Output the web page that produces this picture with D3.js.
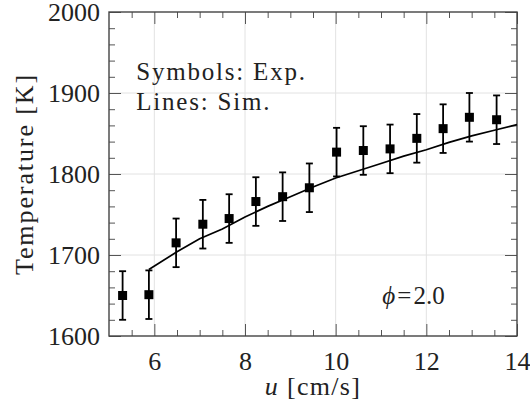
<!DOCTYPE html>
<html>
<head>
<meta charset="utf-8">
<script src="https://cdn.jsdelivr.net/npm/d3@7"></script>
</head>
<body style="margin:0; background:#fff">
<svg width="530" height="414"></svg>
<script>
let width = 530;
let height = 414;

let margin = {
    top: 12,
    right: 13,
    bottom: 78,
    left: 109
};

let FONT = "Liberation Serif"

// experiment (symbols)
let expU = [5.3, 5.88, 6.48, 7.07, 7.65, 8.24, 8.83, 9.42, 10.02, 10.61, 11.2, 11.79, 12.37, 12.95, 13.55];
let expT = [1650, 1651, 1715, 1738, 1745, 1766, 1772, 1783, 1827, 1829, 1831, 1844, 1856, 1870, 1867];
let expErr = [30, 30, 30, 30, 30, 30, 30, 30, 30, 30, 30, 30, 30, 30, 30];

// simulation (line)
let simU = [5.88, 6.5, 7.0, 7.5, 8.0, 8.5, 9.0, 9.5, 10.0, 10.5, 11.0, 11.5, 12.0, 12.5, 13.0, 13.5, 14.0];
let simT = [1682, 1704, 1720, 1732, 1747, 1760, 1772, 1784, 1795, 1804, 1813, 1822, 1830, 1839, 1847, 1854, 1861];

let xTicks = [6, 8, 10, 12, 14];
let yTicks = [1600, 1700, 1800, 1900, 2000];

let svg = d3.select("svg")

let x = d3.scaleLinear()
    .domain([5, 14])
    .range([margin.left, width - margin.right])

let y = d3.scaleLinear()
    .domain([1600, 2000])
    .range([height - margin.bottom, margin.top])

let x0 = margin.left, x1 = width - margin.right
let y0 = height - margin.bottom, y1 = margin.top

// grid lines at major ticks
let grid = svg.append("g")
grid.selectAll(".gx")
    .data(xTicks.filter(d => d > 5 && d < 14))
    .join("line")
    .attr("x1", d => x(d)).attr("x2", d => x(d))
    .attr("y1", y0).attr("y2", y1)
    .attr("stroke", "#e2e2e2").attr("stroke-width", 1)
grid.selectAll(".gy")
    .data(yTicks.filter(d => d > 1600 && d < 2000))
    .join("line")
    .attr("x1", x0).attr("x2", x1)
    .attr("y1", d => y(d)).attr("y2", d => y(d))
    .attr("stroke", "#e2e2e2").attr("stroke-width", 1)

let minorX = d3.range(5.5, 14, 0.5).filter(d => d % 2 != 0)
let minorY = d3.range(1620, 2000, 20).filter(d => d % 100 != 0)

function styleAxis(g) {
    g.attr("font-family", FONT).attr("font-size", 26)
    g.select(".domain").remove()
    g.selectAll(".tick line").attr("stroke", "#555").attr("stroke-width", 1)
    g.selectAll(".tick text").attr("fill", "#222")
}

// bottom + top
svg.append("g").attr("transform", `translate(0,${y0})`)
    .call(d3.axisBottom(x).tickValues(xTicks).tickSize(-12).tickPadding(16).tickFormat(d3.format("d")))
    .call(styleAxis)
svg.append("g").attr("transform", `translate(0,${y0})`)
    .call(d3.axisBottom(x).tickValues(minorX).tickSize(-6).tickFormat(""))
    .call(styleAxis)
svg.append("g").attr("transform", `translate(0,${y1})`)
    .call(d3.axisTop(x).tickValues(xTicks).tickSize(-12).tickFormat(""))
    .call(styleAxis)
svg.append("g").attr("transform", `translate(0,${y1})`)
    .call(d3.axisTop(x).tickValues(minorX).tickSize(-6).tickFormat(""))
    .call(styleAxis)

// left + right
svg.append("g").attr("transform", `translate(${x0},0)`)
    .call(d3.axisLeft(y).tickValues(yTicks).tickSize(-12).tickPadding(9).tickFormat(d3.format("d")))
    .call(styleAxis)
svg.append("g").attr("transform", `translate(${x0},0)`)
    .call(d3.axisLeft(y).tickValues(minorY).tickSize(-6).tickFormat(""))
    .call(styleAxis)
svg.append("g").attr("transform", `translate(${x1},0)`)
    .call(d3.axisRight(y).tickValues(yTicks).tickSize(-12).tickFormat(""))
    .call(styleAxis)
svg.append("g").attr("transform", `translate(${x1},0)`)
    .call(d3.axisRight(y).tickValues(minorY).tickSize(-6).tickFormat(""))
    .call(styleAxis)

// frame
svg.append("rect")
    .attr("x", x0).attr("y", y1)
    .attr("width", x1 - x0).attr("height", y0 - y1)
    .attr("fill", "none").attr("stroke", "#444").attr("stroke-width", 1.4)

// simulation line
let line = d3.line()
    .x((d, i) => x(simU[i]))
    .y(d => y(d))
svg.append("path")
    .attr("d", line(simT))
    .attr("fill", "none").attr("stroke", "#000").attr("stroke-width", 1.7)

// error bars
let expData = expU.map((u, i) => ({u: u, t: expT[i], e: expErr[i]}))
let bars = svg.append("g").selectAll("g")
    .data(expData)
    .join("g")
    .attr("stroke", "#000").attr("stroke-width", 1.8)
bars.append("line")
    .attr("x1", d => x(d.u)).attr("x2", d => x(d.u))
    .attr("y1", d => y(d.t - d.e)).attr("y2", d => y(d.t + d.e))
bars.append("line")
    .attr("x1", d => x(d.u) - 3.5).attr("x2", d => x(d.u) + 3.5)
    .attr("y1", d => y(d.t - d.e)).attr("y2", d => y(d.t - d.e))
bars.append("line")
    .attr("x1", d => x(d.u) - 3.5).attr("x2", d => x(d.u) + 3.5)
    .attr("y1", d => y(d.t + d.e)).attr("y2", d => y(d.t + d.e))

// square symbols
let sq = 9
svg.append("g").selectAll("rect")
    .data(expData)
    .join("rect")
    .attr("x", d => x(d.u) - sq / 2)
    .attr("y", d => y(d.t) - sq / 2)
    .attr("width", sq).attr("height", sq)
    .attr("fill", "#000")

// annotations
function label(sel, size, spacing) {
    return sel.attr("font-family", FONT)
        .attr("font-size", size)
        .attr("letter-spacing", spacing)
        .attr("fill", "#222")
}

label(svg.append("text"), 25, 1.8)
    .attr("x", x(5.6)).attr("y", y(1916))
    .text("Symbols: Exp.")
label(svg.append("text"), 25, 1.8)
    .attr("x", x(5.6)).attr("y", y(1879))
    .text("Lines: Sim.")

let phi = label(svg.append("text"), 25, 0)
    .attr("x", x(11.03)).attr("y", y(1640))
phi.append("tspan").attr("font-style", "italic").text("ϕ")
phi.append("tspan").attr("dx", 2).text("=")
phi.append("tspan").attr("dx", 2).text("2.0")

// axis labels
let xl = label(svg.append("text"), 26, 1.3)
    .attr("x", (x0 + x1) / 2).attr("y", 395)
    .attr("text-anchor", "middle")
xl.append("tspan").attr("font-style", "italic").text("u")
xl.append("tspan").text(" [cm/s]")

label(svg.append("text"), 26, 1.9)
    .attr("transform", `translate(33,${(y0 + y1) / 2}) rotate(-90)`)
    .attr("text-anchor", "middle")
    .text("Temperature [K]")
</script>
</body>
</html>
